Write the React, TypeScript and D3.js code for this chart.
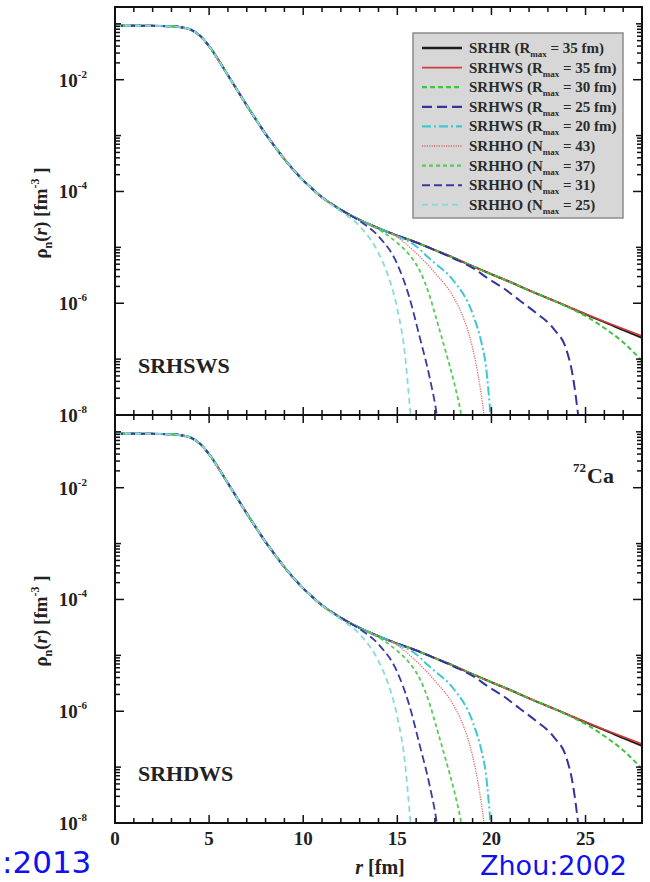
import React from "react";
import * as d3 from "d3";

// ---------- data ----------
const rBase = [0, 1, 2, 3, 3.5, 4, 4.5, 5, 5.5, 6, 6.5, 7, 7.5, 8, 8.5, 9, 9.5, 10, 10.5, 11, 12, 13, 14, 15, 16, 17, 18, 19, 20, 21, 22, 23, 24, 25, 26, 27, 28];
const rhoBase = [0.0923, 0.0923, 0.0919, 0.0902, 0.0871, 0.0794, 0.0617, 0.0398, 0.0224, 0.012, 6.46e-3, 3.47e-3, 1.91e-3, 1.07e-3, 6.3e-4, 3.8e-4, 2.4e-4, 1.58e-4, 1.1e-4, 7.9e-5, 4.7e-5, 3.1e-5, 2.2e-5, 1.62e-5, 1.23e-5, 8.9e-6, 6.5e-6, 4.6e-6, 3.3e-6, 2.4e-6, 1.7e-6, 1.23e-6, 8.9e-7, 6.3e-7, 4.6e-7, 3.3e-7, 2.4e-7];

const ws35R = [24, 26, 28];
const ws35Rho = [8.9e-7, 4.7e-7, 2.6e-7];
const ws30R = [24, 25, 26, 27, 28];
const ws30Rho = [8.7e-7, 5.9e-7, 3.6e-7, 2.0e-7, 9.3e-8];
const ws25R = [18, 19, 19.8, 20.7, 21.5, 22.4, 23.3, 24.0, 24.3, 24.6, 24.8];
const ws25Rho = [6.3e-6, 4.3e-6, 2.8e-6, 1.8e-6, 1.12e-6, 6.6e-7, 3.5e-7, 1.41e-7, 5.5e-8, 1.05e-8, 2.5e-9];
const ws20R = [15, 16, 16.6, 17, 18, 19, 19.5, 19.7, 19.85, 19.95, 20.05];
const ws20Rho = [1.58e-5, 1.05e-5, 6.8e-6, 5.2e-6, 2.5e-6, 6.5e-7, 1.78e-7, 7.9e-8, 2.5e-8, 1.0e-8, 2.5e-9];
const ho43R = [15, 16, 17, 18, 18.5, 19, 19.3, 19.6, 19.75];
const ho43Rho = [1.51e-5, 7.9e-6, 3.5e-6, 1.26e-6, 5.6e-7, 1.58e-7, 5.0e-8, 1.0e-8, 3.2e-9];
const ho37R = [14, 15, 15.6, 16.2, 16.7, 17.1, 17.6, 18, 18.4, 18.6];
const ho37Rho = [2.1e-5, 1.2e-5, 7.6e-6, 3.8e-6, 1.41e-6, 4.9e-7, 1.26e-7, 4.0e-8, 1.0e-8, 4.0e-9];
const ho31R = [13, 14, 15, 15.6, 16.2, 16.7, 17.1, 17.3];
const ho31Rho = [2.95e-5, 1.58e-5, 5.0e-6, 1.41e-6, 2.4e-7, 5.0e-8, 1.0e-8, 3.2e-9];
const ho25R = [12, 13, 14, 14.5, 15, 15.4, 15.7, 15.85];
const ho25Rho = [4.4e-5, 2.4e-5, 7.9e-6, 3.2e-6, 7.9e-7, 1.26e-7, 1.0e-8, 2.5e-9];

const legendNames = ["SRHR (R", "SRHWS (R", "SRHWS (R", "SRHWS (R", "SRHWS (R", "SRHHO (N", "SRHHO (N", "SRHHO (N", "SRHHO (N"];
const legendValues = [" = 35 fm)", " = 35 fm)", " = 30 fm)", " = 25 fm)", " = 20 fm)", " = 43)", " = 37)", " = 31)", " = 25)"];
const panelLabels = ["SRHSWS", "SRHDWS"];
const xTickLabels = [0, 5, 10, 15, 20, 25];
const yLabelExps = [-2, -4, -6, -8];

// ---------- styles ----------
const styles = [
  { color: "#1c1c1c", dash: "", width: 2 },
  { color: "#d23c3c", dash: "", width: 1.6 },
  { color: "#3ec43e", dash: "5,3", width: 2 },
  { color: "#34349c", dash: "10,5", width: 2 },
  { color: "#3cc8d2", dash: "9,3,2,3", width: 2 },
  { color: "#e06a6a", dash: "1.2,1.2", width: 1.3 },
  { color: "#55cc55", dash: "4,3", width: 1.8 },
  { color: "#3a3aa0", dash: "8,4", width: 1.8 },
  { color: "#8adada", dash: "6,4", width: 1.8 },
];

const tails: [number[], number[]][] = [
  [[], []],
  [ws35R, ws35Rho],
  [ws30R, ws30Rho],
  [ws25R, ws25Rho],
  [ws20R, ws20Rho],
  [ho43R, ho43Rho],
  [ho37R, ho37Rho],
  [ho31R, ho31Rho],
  [ho25R, ho25Rho],
];

function seriesPoints(i: number): [number, number][] {
  const base: [number, number][] = rBase.map((r, k) => [r, rhoBase[k]]);
  const [tr, trho] = tails[i];
  if (tr.length === 0) return base;
  const start = tr[0];
  return base.filter((p) => p[0] < start).concat(tr.map((r, k) => [r, trho[k]] as [number, number]));
}

const W = 650;
const H = 882;
const X0 = 115;
const X1 = 642;
const panels = [
  { top: 7, bottom: 415, label: panelLabels[0] },
  { top: 415, bottom: 823, label: panelLabels[1] },
];

const x = d3.scaleLinear().domain([0, 28]).range([X0, X1]);
const serif = "'Liberation Serif', 'Times New Roman', serif";

function Panel({ idx }: { idx: number }) {
  const p = panels[idx];
  const y = d3.scaleLog().domain([1e-8, 0.2]).range([p.bottom, p.top]);
  const line = d3
    .line<[number, number]>()
    .x((d) => x(d[0]))
    .y((d) => y(Math.max(d[1], 1e-10)))
    .curve(d3.curveMonotoneX);
  const clipId = `clip${idx}`;

  const yTicks: { v: number; len: number }[] = [];
  for (let e = -8; e <= -1; e++) {
    const v = Math.pow(10, e);
    if (e % 2 === 0) yTicks.push({ v, len: 9 });
    else yTicks.push({ v, len: 6 });
  }
  for (const e of [-8, -6, -4, -2]) {
    for (let k = 2; k <= 9; k++) yTicks.push({ v: k * Math.pow(10, e), len: 5 });
  }
  const xTicks: { v: number; len: number }[] = [];
  for (let v = 0; v <= 28; v++) xTicks.push({ v, len: v % 5 === 0 ? 8 : 5 });

  return (
    <g>
      <defs>
        <clipPath id={clipId}>
          <rect x={X0} y={p.top} width={X1 - X0} height={p.bottom - p.top} />
        </clipPath>
      </defs>
      <g clipPath={`url(#${clipId})`}>
        {styles.map((s, i) => (
          <path
            key={i}
            d={line(seriesPoints(i)) || ""}
            fill="none"
            stroke={s.color}
            strokeWidth={s.width}
            strokeDasharray={s.dash || undefined}
          />
        ))}
      </g>
      {yTicks.map((t, i) => {
        const yy = y(t.v);
        if (yy < p.top + 1 || yy > p.bottom - 1) return null;
        return (
          <g key={"yt" + i} stroke="#111" strokeWidth={1.5}>
            <line x1={X0} x2={X0 + t.len} y1={yy} y2={yy} />
            <line x1={X1} x2={X1 - t.len} y1={yy} y2={yy} />
          </g>
        );
      })}
      {xTicks.map((t, i) => {
        const xx = x(t.v);
        if (xx < X0 + 1 || xx > X1 - 1) return null;
        return (
          <g key={"xt" + i} stroke="#111" strokeWidth={1.5}>
            <line x1={xx} x2={xx} y1={p.top} y2={p.top + t.len} />
            <line x1={xx} x2={xx} y1={p.bottom} y2={p.bottom - t.len} />
          </g>
        );
      })}
      <rect x={X0} y={p.top} width={X1 - X0} height={p.bottom - p.top} fill="none" stroke="#111" strokeWidth={2} />
      {yLabelExps.map((e) => {
        const yy = y(Math.pow(10, e));
        return (
          <text key={"yl" + e} x={87} y={yy + 7} fontFamily={serif} fontWeight="bold" fontSize={19} textAnchor="end" fill="#222">
            10
            <tspan fontSize={11} dy={-9}>{e}</tspan>
          </text>
        );
      })}
      <text x={138} y={p.bottom - 42} fontFamily={serif} fontWeight="bold" fontSize={22} fill="#222">
        {p.label}
      </text>
      <text
        transform={`translate(47,${(p.top + p.bottom) / 2 + 2}) rotate(-90)`}
        textAnchor="middle"
        fontFamily={serif}
        fontWeight="bold"
        fontSize={19}
        fill="#222"
      >
        ρ<tspan fontSize={12} dy={5}>n</tspan>
        <tspan dy={-5}>(</tspan>
        <tspan fontStyle="italic">r</tspan>) [fm
        <tspan fontSize={12} dy={-8}>-3</tspan>
        <tspan dy={8}> ]</tspan>
      </text>
    </g>
  );
}

function Legend() {
  const bx = 413, by = 33, bw = 210, bh = 185;
  const row0 = 48, step = 19.6;
  return (
    <g>
      <rect x={bx} y={by} width={bw} height={bh} fill="#d7d7d7" stroke="#8c8c8c" strokeWidth={1.5} />
      {styles.map((s, i) => {
        const yy = row0 + i * step;
        return (
          <g key={i}>
            <line x1={422} x2={462} y1={yy} y2={yy} stroke={s.color} strokeWidth={s.width + 0.3} strokeDasharray={s.dash || undefined} />
            <text x={469} y={yy + 5} fontFamily={serif} fontWeight="bold" fontSize={15} fill="#2a2a2a">
              {legendNames[i]}
              <tspan fontSize={9} dy={4}>max</tspan>
              <tspan dy={-4}>{legendValues[i]}</tspan>
            </text>
          </g>
        );
      })}
    </g>
  );
}

export default function App() {
  return (
    <svg width={W} height={H} style={{ position: "absolute", left: 0, top: 0, background: "#fff" }}>
      <rect x={0} y={0} width={W} height={H} fill="#fff" />
      <Panel idx={0} />
      <Panel idx={1} />
      <Legend />
      <text x={587} y={483} fontFamily={serif} fontWeight="bold" fontSize={22} fill="#222">Ca</text>
      <text x={586} y={472} fontFamily={serif} fontWeight="bold" fontSize={13} textAnchor="end" fill="#222">72</text>
      {xTickLabels.map((v) => (
        <text key={v} x={x(v)} y={845} textAnchor="middle" fontFamily={serif} fontWeight="bold" fontSize={19} fill="#222">
          {v}
        </text>
      ))}
      <text x={380} y={874} textAnchor="middle" fontFamily={serif} fontWeight="bold" fontSize={20} fill="#222">
        <tspan fontStyle="italic">r</tspan> [fm]
      </text>
      <text x={2} y={873} fontFamily="'DejaVu Sans', sans-serif" fontSize={31} fill="#1010f0">:2013</text>
      <text x={480} y={875} fontFamily="'DejaVu Sans', sans-serif" fontSize={27} fill="#1010f0">Zhou:2002</text>
    </svg>
  );
}
